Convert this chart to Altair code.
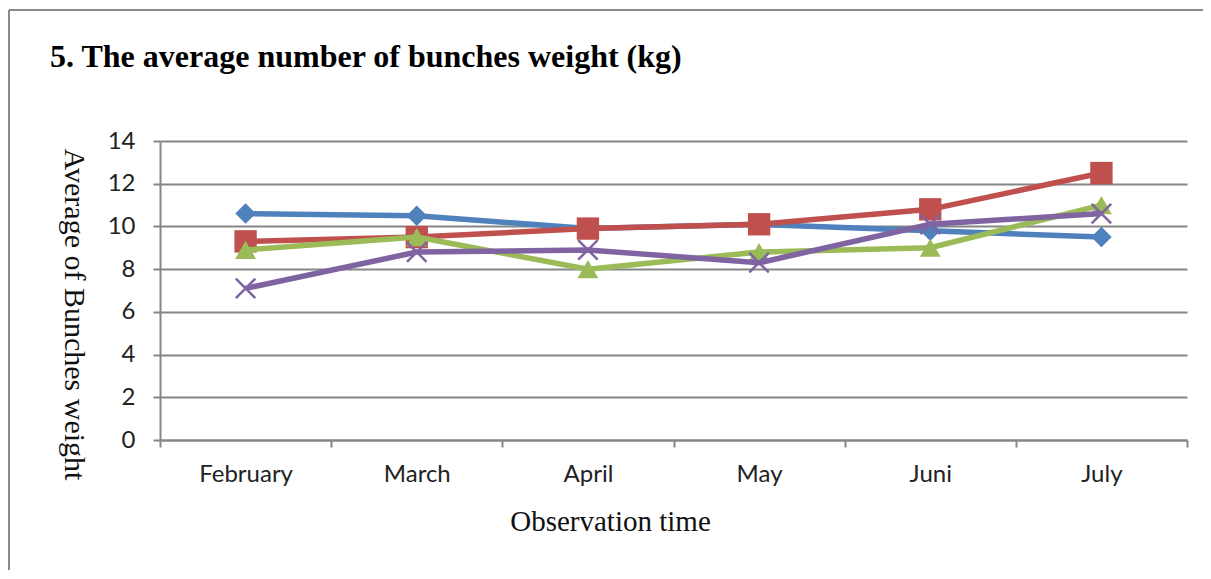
import altair as alt
import pandas as pd

months = ["February", "March", "April", "May", "Juni", "July"]
series_names = ["Series 1", "Series 2", "Series 3", "Series 4"]
s1 = [10.6, 10.5, 9.9, 10.1, 9.8, 9.5]
s2 = [9.3, 9.5, 9.9, 10.1, 10.8, 12.5]
s3 = [8.9, 9.5, 8.0, 8.8, 9.0, 11.0]
s4 = [7.1, 8.8, 8.9, 8.3, 10.1, 10.6]
y_ticks = [0, 2, 4, 6, 8, 10, 12, 14]

colors = ["#4F81BD", "#C0504D", "#9BBB59", "#8064A2"]
shapes = ["diamond", "square", "triangle-up", "M-1,-1L1,1M-1,1L1,-1"]
sizes = [420, 500, 440, 380]

rows = []
for name, vals in zip(series_names, [s1, s2, s3, s4]):
    for m, v in zip(months, vals):
        rows.append({"month": m, "value": v, "series": name})
df = pd.DataFrame(rows)

W, H = 1027, 299
PL, PT = 152, 133
PR, PB = 1195 - PL - W, 130

GRAY = "#868686"

x_enc = alt.X(
    "month:N",
    sort=months,
    bandPosition=0.5,
    scale=alt.Scale(type="band", paddingInner=0, paddingOuter=0),
    axis=alt.Axis(
        title="Observation time",
        labelAngle=0,
        tickBand="extent",
        grid=False,
        domainColor=GRAY,
        domainWidth=2,
        tickColor=GRAY,
        tickWidth=2,
        tickSize=7,
        labelFont="Lato",
        labelFontSize=24,
        labelColor="#222222",
        labelPadding=15,
        titleFont="Liberation Serif",
        titleFontSize=29,
        titleFontWeight="normal",
        titleColor="#111111",
        titleX=450,
        titleY=81,
        titleBaseline="middle",
        titleAlign="center",
    ),
)
y_enc = alt.Y(
    "value:Q",
    scale=alt.Scale(domain=[0, 14]),
    axis=alt.Axis(
        title="Average of Bunches weight",
        values=y_ticks,
        grid=True,
        gridColor=GRAY,
        gridWidth=2,
        domainColor=GRAY,
        domainWidth=2,
        tickColor=GRAY,
        tickWidth=2,
        tickSize=7,
        labelFont="Lato",
        labelFontSize=24,
        labelColor="#222222",
        labelPadding=18,
        titleFont="Liberation Serif",
        titleFontSize=30,
        titleFontWeight="normal",
        titleColor="#111111",
        titleAngle=90,
        titleX=-87,
        titleY=173,
        titleBaseline="middle",
        titleAlign="center",
    ),
)

base = alt.Chart(df)
layers = []
for i, name in enumerate(series_names):
    sub = base.transform_filter(alt.datum.series == name)
    layers.append(
        sub.mark_line(color=colors[i], strokeWidth=5.5).encode(x=x_enc, y=y_enc)
    )
    if i == 3:
        pt = sub.mark_point(
            shape=shapes[i], size=sizes[i], filled=False, color=colors[i],
            strokeWidth=2.5, opacity=1,
        )
    else:
        pt = sub.mark_point(
            shape=shapes[i], size=sizes[i], filled=True, color=colors[i], opacity=1,
        )
    layers.append(pt.encode(x=x_enc, y=y_enc))

title = alt.Chart(pd.DataFrame({"t": ["5. The average number of bunches weight (kg)"]})).mark_text(
    font="Liberation Serif", fontSize=32, fontWeight="bold", align="left",
    baseline="alphabetic", color="#000000",
).encode(text="t:N", x=alt.value(-110), y=alt.value(-74))

border_top = alt.Chart(pd.DataFrame({"a": [0]})).mark_rule(color="#8a8a8a", strokeWidth=2).encode(
    x=alt.value(-151), x2=alt.value(W + PR + 5), y=alt.value(-131)
)
border_left = alt.Chart(pd.DataFrame({"a": [0]})).mark_rule(color="#8a8a8a", strokeWidth=2).encode(
    x=alt.value(-151), y=alt.value(-131), y2=alt.value(H + PB + 5)
)

chart = alt.layer(border_top, border_left, title, *layers).properties(
    width=W,
    height=H,
    autosize=alt.AutoSizeParams(type="none"),
    padding={"left": PL, "top": PT, "right": PR, "bottom": PB},
    background="white",
).configure_view(stroke=None)

chart.save("out.html", embed_options={"renderer": "svg", "actions": False})
